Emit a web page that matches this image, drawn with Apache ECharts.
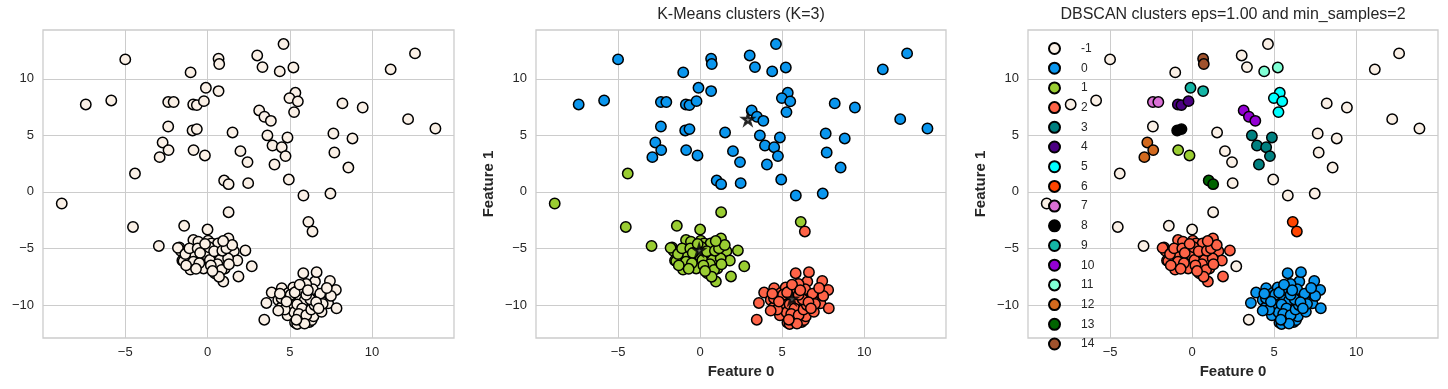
<!DOCTYPE html>
<html><head><meta charset="utf-8">
<script src="https://cdn.jsdelivr.net/npm/echarts@6/dist/echarts.min.js"></script>
<style>html,body{margin:0;padding:0;background:#fff}#c{width:1448px;height:389px}</style>
</head><body><div id="c"></div>
<script>
// ---- Data ----
// wide, sparse blob (plus stray points), with K-Means and DBSCAN labels
const sparseX = [-8.86,-7.4,-5.85,-5.0,-4.41,-4.53,-2.96,-2.91,-2.73,-2.37,-2.39,-2.39,-2.06,-1.03,-0.87,-0.65,-0.91,-0.65,-0.85,-0.16,-0.22,-0.1,0.67,0.71,0.67,1.01,1.28,1.52,2.0,2.43,2.47,1.28,3.02,3.34,3.14,3.46,3.85,3.64,3.95,4.07,4.51,4.74,4.86,4.94,4.62,4.39,5.22,5.34,4.98,5.49,5.26,5.83,6.13,6.38,7.47,7.65,7.71,8.2,8.56,8.81,9.43,11.13,12.61,12.19,13.85,-1.42,0.0,2.69,3.45];
const sparseY = [-1.03,7.73,8.08,11.71,1.62,-3.1,-4.78,3.07,4.37,3.69,5.78,7.94,7.94,10.56,7.73,7.67,5.43,5.55,3.69,3.22,8.02,9.2,11.77,11.3,8.91,1.0,0.68,5.25,3.6,2.63,0.77,-1.8,12.06,11.03,7.2,6.64,6.28,4.99,4.1,2.42,3.95,3.16,4.81,1.09,13.07,10.65,11.0,8.76,8.29,8.0,7.05,-0.32,-2.65,-3.5,-0.15,5.16,3.48,7.82,2.15,4.72,7.46,10.83,12.24,6.43,5.6,-3.0,-3.33,-6.58,-11.3];
const sparseKmeans = [1,0,0,0,1,1,1,0,0,0,0,0,0,0,0,0,0,0,0,0,0,0,0,0,0,0,0,0,0,0,0,1,0,0,0,0,0,0,0,0,0,0,0,0,0,0,0,0,0,0,0,0,1,2,0,0,0,0,0,0,0,0,0,0,0,1,1,1,2];
const sparseDbscan = [-1,-1,-1,-1,-1,-1,-1,12,12,12,-1,7,7,-1,4,4,8,8,1,1,4,9,14,14,9,13,13,-1,-1,-1,-1,-1,-1,-1,10,10,10,3,3,3,3,3,3,-1,-1,11,11,5,5,5,5,-1,6,6,-1,-1,-1,-1,-1,-1,-1,-1,-1,-1,-1,-1,-1,-1,-1];
// dense blob A (K-Means 1 / DBSCAN 2)
const blobAX = [-0.86,-1.71,-1.62,-1.2,-1.53,-0.92,-1.04,-0.24,-0.2,-0.36,0.04,0.3,0.59,0.83,0.47,0.45,0.96,1.01,1.27,1.6,1.81,1.88,2.3,-0.56,0.24,0.64,-0.06,0.14,0.75,1.25,1.05,-0.76,-1.46,-0.86,-1.8,-1.35,-1.1,-0.6,-0.45,0.1,0.4,0.9,1.15,0.6,0.2,-0.5,-1.3,0.85,1.3,0.7,1.5,0.95,-0.15,-0.7,0.3];
const blobAY = [-4.26,-4.91,-5.22,-5.24,-6.07,-6.24,-6.87,-6.77,-5.22,-4.85,-4.31,-5.6,-5.04,-5.9,-6.7,-7.21,-7.93,-4.63,-4.12,-5.24,-6.07,-7.48,-5.18,-4.4,-4.55,-4.55,-5.59,-6.03,-6.03,-5.88,-6.77,-5.59,-6.12,-6.18,-4.95,-5.5,-5.0,-5.0,-5.4,-4.9,-5.25,-5.2,-5.0,-6.4,-6.5,-6.3,-6.5,-6.9,-6.4,-7.5,-4.7,-4.35,-4.6,-6.8,-7.0];
const blobAKmeans = 1, blobADbscan = 2;
// dense blob B (K-Means 2 / DBSCAN 0)
const blobBX = [3.58,3.9,4.51,4.3,4.47,4.5,4.86,4.92,5.21,5.01,5.22,5.27,5.32,5.45,5.62,5.73,5.82,5.88,6.12,6.19,6.33,6.44,6.53,6.63,6.73,6.93,7.03,7.15,7.33,7.44,7.8,7.84,5.63,5.5,5.9,4.7,4.3,5.05,5.45,5.75,5.55,6.0,6.3,6.5,6.25,6.0,6.4,6.0,6.85,7.0,7.5,5.3,4.8,5.6,6.6,6.75,5.9,5.4,6.1,4.4,7.25];
const blobBY = [-9.82,-8.9,-8.52,-9.56,-10.23,-9.4,-10.91,-8.94,-8.46,-9.7,-10.03,-10.65,-11.55,-11.68,-11.3,-11.06,-7.19,-8.37,-10.0,-11.5,-11.33,-11.0,-7.93,-7.1,-9.4,-10.6,-9.26,-8.85,-9.85,-7.88,-8.67,-10.29,-9.29,-8.7,-9.6,-10.4,-10.5,-9.1,-9.95,-10.3,-10.8,-10.9,-10.4,-10.0,-9.5,-9.1,-8.6,-8.15,-9.0,-9.9,-9.2,-8.9,-9.7,-8.2,-9.75,-10.3,-11.65,-11.3,-8.7,-9.0,-8.5];
const blobBKmeans = 2, blobBDbscan = 0;
// K-Means centres
const centerX = [2.91, -0.06, 5.6];
const centerY = [6.42, -5.15, -9.45];
// ticks and labels
const xTicks = [-5, 0, 5, 10];
const yTicks = [-10, -5, 0, 5, 10];
const dbscanNames = ['-1','0','1','2','3','4','5','6','7','8','9','10','11','12','13','14'];
const kmeansTitle = 'K-Means clusters (K=3)';
const dbscanTitle = 'DBSCAN clusters eps=1.00 and min_samples=2';
const xName = 'Feature 0', yName = 'Feature 1';

// ---- Styles ----
const kmColors = ['#0a96ee', '#9acd32', '#ff6347'];
const dbColors = {'-1':'#faf0e6','0':'#0a96ee','1':'#9acd32','2':'#ff6347','3':'#008080','4':'#4b0082','5':'#00ffff','6':'#ff4500','7':'#da70d6','8':'#000000','9':'#14b5a5','10':'#9400d3','11':'#7fffd4','12':'#d2691e','13':'#006400','14':'#a0522d'};
const FONT = '"Liberation Sans", Arial, sans-serif';
const TXT = '#262626';
const GRIDC = '#cccccc';

// ---- assemble all points ----
const allX = [], allY = [], allKm = [], allDb = [];
sparseX.forEach((v,i)=>{allX.push(v); allY.push(sparseY[i]); allKm.push(sparseKmeans[i]); allDb.push(sparseDbscan[i]);});
blobAX.forEach((v,i)=>{allX.push(v); allY.push(blobAY[i]); allKm.push(blobAKmeans); allDb.push(blobADbscan);});
blobBX.forEach((v,i)=>{allX.push(v); allY.push(blobBY[i]); allKm.push(blobBKmeans); allDb.push(blobBDbscan);});

const X_MIN = -10.0, X_MAX = 14.98, Y_MIN = -12.92, Y_MAX = 14.31;
const grids = [
  {left: 43, top: 30, width: 411, height: 308},
  {left: 536, top: 30, width: 410, height: 308},
  {left: 1028, top: 30, width: 410, height: 308}
];
const fmt = v => String(v).replace('-', '\u2212');
function xAxis(i, named) {
  return {gridIndex: i, type: 'value', min: X_MIN, max: X_MAX,
    axisLine: {show: false}, axisTick: {show: false, customValues: xTicks},
    splitLine: {show: true, lineStyle: {color: GRIDC, width: 1}},
    axisLabel: {customValues: xTicks, formatter: fmt, color: TXT, fontSize: 13, fontFamily: FONT, margin: 8},
    name: named ? xName : '', nameLocation: 'middle', nameGap: 26,
    nameTextStyle: {fontWeight: 'bold', fontSize: 15, color: TXT, fontFamily: FONT}};
}
function yAxis(i, named) {
  return {gridIndex: i, type: 'value', min: Y_MIN, max: Y_MAX,
    axisLine: {show: false}, axisTick: {show: false, customValues: yTicks},
    splitLine: {show: true, lineStyle: {color: GRIDC, width: 1}},
    axisLabel: {customValues: yTicks, formatter: fmt, color: TXT, fontSize: 13, fontFamily: FONT, margin: 9},
    name: named ? yName : '', nameLocation: 'middle', nameGap: 40, nameRotate: 90,
    nameTextStyle: {fontWeight: 'bold', fontSize: 15, color: TXT, fontFamily: FONT}};
}
const SYM = 10.4, BW = 1.5;
const series = [];
// panel 1: all points
series.push({type: 'scatter', xAxisIndex: 0, yAxisIndex: 0, symbolSize: SYM,
  itemStyle: {color: dbColors['-1'], borderColor: '#000', borderWidth: BW, opacity: 1},
  data: allX.map((v,i)=>[v, allY[i]])});
// panel 2: K-Means
for (let k = 0; k < 3; k++) {
  series.push({type: 'scatter', xAxisIndex: 1, yAxisIndex: 1, symbolSize: SYM,
    itemStyle: {color: kmColors[k], borderColor: '#000', borderWidth: BW, opacity: 1},
    data: allX.map((v,i)=>[v, allY[i], allKm[i]]).filter(d=>d[2]===k).map(d=>[d[0], d[1]])});
}
const STAR = 'path://M50,0 L61,35 L98,35 L68,57 L79,91 L50,70 L21,91 L32,57 L2,35 L39,35 Z';
series.push({type: 'scatter', xAxisIndex: 1, yAxisIndex: 1, symbol: STAR, symbolSize: 11, z: 5,
  itemStyle: {color: '#666', borderColor: '#000', borderWidth: 2.2},
  data: centerX.map((v,i)=>[v, centerY[i]])});
// panel 3: DBSCAN
dbscanNames.forEach(name => {
  const lab = Number(name);
  series.push({type: 'scatter', name: name, xAxisIndex: 2, yAxisIndex: 2, symbolSize: SYM,
    itemStyle: {color: dbColors[name], borderColor: '#000', borderWidth: BW, opacity: 1},
    data: allX.map((v,i)=>[v, allY[i], allDb[i]]).filter(d=>d[2]===lab).map(d=>[d[0], d[1]])});
});

const chart = echarts.init(document.getElementById('c'), null, {renderer: 'canvas'});
chart.setOption({
  animation: false,
  backgroundColor: '#ffffff',
  title: [
    {text: kmeansTitle, left: 741, top: 7, textAlign: 'center', padding: 0,
     textStyle: {fontSize: 16, fontWeight: 'normal', color: TXT, fontFamily: FONT}},
    {text: dbscanTitle, left: 1233, top: 7, textAlign: 'center', padding: 0,
     textStyle: {fontSize: 16, fontWeight: 'normal', color: TXT, fontFamily: FONT}}
  ],
  legend: {data: dbscanNames, orient: 'vertical', left: 1048, top: 42, height: 345, padding: 0,
    itemWidth: 11, itemHeight: 11, itemGap: 6.7, icon: 'circle',
    textStyle: {fontSize: 12, color: TXT, fontFamily: FONT, padding: [0, 0, 0, 16]}},
  grid: grids.map(g => Object.assign({show: true, borderColor: GRIDC, borderWidth: 1.3, backgroundColor: '#fff', containLabel: false}, g)),
  xAxis: [xAxis(0, false), xAxis(1, true), xAxis(2, true)],
  yAxis: [yAxis(0, false), yAxis(1, true), yAxis(2, true)],
  series: series
});
</script></body></html>
